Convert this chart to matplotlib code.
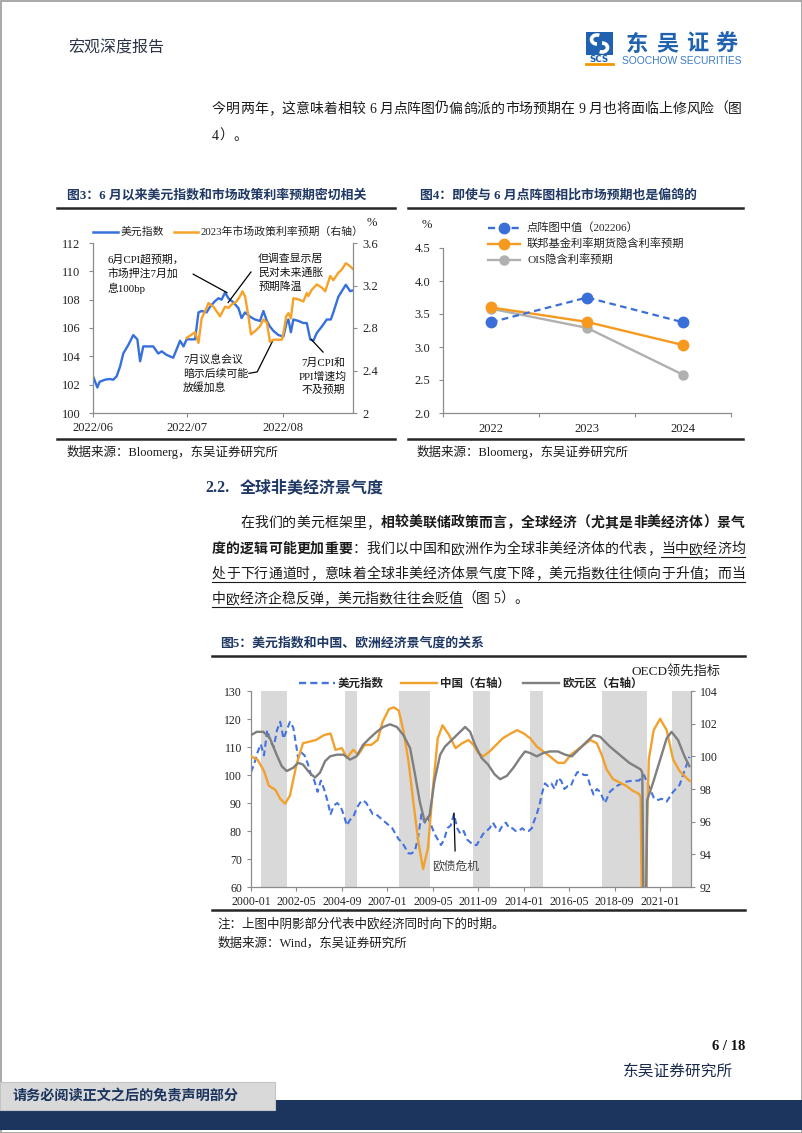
import matplotlib

matplotlib.use("Agg")
import matplotlib.pyplot as plt  # noqa: E402
import numpy as np  # noqa: E402
from matplotlib.patches import Rectangle, Arc  # noqa: E402

W, H = 802, 1133
SERIF = ["Liberation Serif", "Noto Sans CJK SC", "DejaVu Sans"]
SANS = ["Noto Sans CJK SC", "DejaVu Sans"]
NAVY = "#1F3864"
INK = "#1a1a1a"
AXIS_GRAY = "#8c8c8c"

plt.rcParams["font.family"] = SERIF
plt.rcParams["axes.unicode_minus"] = False

# ---------------- fig 3: DXY vs 2023 policy-rate expectation (days since 2022-06-01)
dxy_day = [0, 1.4, 2.1, 3.8, 5.4, 6.5, 7.6, 8.7, 9.7, 11.3, 12.9, 14.2, 15.1, 16.1, 17.2, 19.3, 20.9, 22,
           23.6, 25.7, 26.8, 27.9, 29, 30, 32.7, 33.8, 34.8, 36.4, 37.5, 39.1, 40.2, 41.2, 42.3, 43.4, 45,
           46.6, 47.6, 48.7, 50.3, 51.9, 53.5, 54.6, 55.7, 56.7, 57.8, 59.4, 61, 62, 62.6, 63.4, 64.2, 65.8,
           67.4, 68.5, 69.6, 70.6, 71.7, 73.3, 74.9, 76.2, 77, 78.6, 79.7, 81, 82.4, 83.3]
dxy_val = [102.6, 101.8, 102.2, 102.35, 102.4, 102.35, 102.6, 103.3, 104.2, 104.8, 105.5, 105.2, 103.65,
           104.7, 104.7, 104.7, 104.2, 104.35, 104.1, 103.9, 104.5, 105.1, 104.7, 105.2, 105.2, 107.1, 107.2,
           107.1, 107.5, 107.9, 108.1, 108.0, 108.5, 108.1, 107.8, 107.4, 106.7, 107.1, 106.8, 106.6, 106.5,
           107.2, 106.5, 106.1, 105.8, 105.5, 105.4, 106.35, 106.6, 105.7, 106.6, 106.5, 106.35, 106.35,
           105.2, 105.1, 105.65, 106.1, 106.6, 106.6, 107.1, 108.2, 108.6, 109.05, 108.6, 108.65]
rate_day = [30, 32.7, 33.8, 34.8, 35.9, 37, 38.6, 40.7, 42.3, 43.4, 44.4, 46, 47.1, 47.9, 48.7, 49.8, 50.6,
            51.9, 53.5, 54.6, 55.7, 56.7, 57.8, 60.5, 61, 61.9, 62.6, 63.4, 64.2, 65.8, 67.4, 68.5, 69, 70.1,
            71.7, 73.3, 74.4, 76, 77, 78.6, 79.7, 81, 82.4, 83.3]
rate_val = [2.706, 2.76, 2.66, 2.89, 2.957, 3.035, 3.0, 2.91, 3.0, 2.99, 3.02, 3.05, 3.10, 3.145, 3.10, 2.91,
            2.74, 2.77, 2.816, 2.88, 2.85, 2.67, 2.69, 2.69, 2.75, 2.91, 2.94, 2.89, 3.08, 3.07, 3.05, 3.13,
            3.10, 3.16, 3.21, 3.18, 3.145, 3.29, 3.25, 3.32, 3.35, 3.41, 3.38, 3.355]
fig3_ticks = [0, 30, 61]
fig3_labels = ["2022/06", "2022/07", "2022/08"]

# ---------------- fig 4: dot plot vs market
years = ["2022", "2023", "2024"]
dot_plot = [3.375, 3.75, 3.375]
ff_futures = [3.6, 3.38, 3.03]
ois = [3.58, 3.29, 2.58]

# ---------------- fig 5: USD index vs OECD CLI (months since 2000-01)
usd = [(0, 101), (2, 104), (4, 108), (6, 111), (8, 107), (10, 116), (12, 112), (14, 110), (16, 116),
       (18, 119), (20, 113), (22, 116), (24, 119), (26, 117), (28, 110), (29, 106), (31, 108), (33, 107),
       (35, 104), (37, 100), (39, 98), (41, 94), (43, 98), (45, 95), (47, 91), (49, 86), (51, 89), (53, 90),
       (55, 89), (57, 86), (59, 82), (61, 84), (63, 85), (65, 88), (67, 90), (69, 91), (71, 90), (73, 88),
       (75, 86), (77, 86), (79, 85), (81, 84), (83, 83), (85, 82), (87, 81), (89, 79), (91, 77), (93, 76),
       (95, 74), (97, 72), (99, 72), (101, 73), (103, 78), (105, 86), (107, 83), (109, 85), (111, 82),
       (113, 79), (115, 77), (117, 75), (119, 77), (121, 81), (123, 82), (125, 86), (127, 81), (129, 79),
       (131, 80), (133, 77), (135, 76), (137, 75), (139, 75), (141, 77), (143, 79), (145, 80), (147, 81),
       (149, 83), (151, 81), (153, 80), (155, 82), (157, 83), (159, 81), (161, 81), (163, 80), (165, 80),
       (167, 81), (169, 80), (171, 80), (173, 81), (174, 83), (176, 86), (178, 90), (179, 93), (181, 97),
       (183, 96), (185, 97), (187, 95), (189, 99), (191, 98), (193, 95), (195, 96), (197, 96), (199, 99),
       (201, 101), (203, 101), (205, 100), (207, 100), (209, 96), (211, 93), (213, 95), (215, 94), (218, 90),
       (221, 94), (225, 96), (230, 97.5), (235, 98), (239, 98), (242, 100), (245, 96), (248, 92), (250, 91),
       (253, 91.5), (256, 90.5), (260, 94), (264, 96.5), (267, 101.5), (270, 106.5)]
china = [(0, 100.0), (4, 99.8), (8, 99.1), (11, 98.2), (15, 97.95), (18, 97.4), (21, 97.1), (24, 97.6),
         (28, 99.5), (32, 100.8), (36, 100.9), (40, 101.0), (45, 101.3), (49, 101.4), (52, 100.4),
         (56, 100.5), (59, 99.9), (63, 100.4), (66, 100.1), (70, 100.7), (74, 100.7), (78, 101.0),
         (81, 102.1), (85, 102.9), (88, 103.0), (91, 102.8), (94, 101.5), (97, 99.7), (100, 97.2),
         (103, 94.8), (106, 93.1), (109, 94.4), (112, 98.0), (115, 101.1), (118, 101.9), (122, 101.3),
         (126, 100.5), (130, 100.8), (134, 101.0), (137, 100.7), (140, 100.2), (143, 100.0), (147, 100.3),
         (151, 100.7), (155, 101.1), (160, 101.4), (164, 101.6), (168, 101.4), (172, 101.1), (176, 100.6),
         (180, 100.3), (184, 100.0), (189, 99.6), (193, 99.6), (197, 100.1), (201, 100.4), (205, 100.7),
         (209, 101.0), (213, 100.8), (216, 100.1), (219, 99.2), (223, 98.6), (227, 98.4), (231, 98.2),
         (235, 97.9), (239, 97.7), (240, 97.5), (241, 88), (243, 88), (244, 96), (245, 99.8), (248, 101.6),
         (252, 102.3), (256, 101.6), (260, 99.8), (264, 99.1), (270, 98.5)]
euro = [(0, 101.3), (3.5, 101.5), (7.6, 101.5), (11.7, 101.1), (15.8, 100.1), (18.9, 99.4), (22, 99.1),
        (26, 99.3), (29, 99.6), (32, 99.5), (36, 99.0), (39.4, 98.7), (42.5, 99.0), (45.6, 99.7), (48.7, 100.0),
        (52.8, 100.1), (57, 100.1), (61, 99.8), (65, 100.0), (69, 100.7), (73, 101.1), (77.4, 101.5),
        (81.5, 101.8), (85.6, 101.96), (89.8, 101.8), (93.9, 101.3), (98, 100.5), (101, 98.9), (104, 97.2),
        (107, 96.0), (110, 96.4), (113, 98.5), (116.5, 100.1), (119.5, 100.6), (122.6, 100.9), (126.7, 101.3),
        (131.9, 101.8), (135, 101.5), (138, 100.7), (142, 99.9), (146, 99.5), (150, 98.9), (153.4, 98.6),
        (157.5, 98.8), (161.6, 99.3), (165.7, 99.9), (168.8, 100.3), (172, 100.2), (176, 100.0), (180, 100.2),
        (184, 100.3), (189, 100.3), (193.5, 100.1), (197.6, 100.0), (201.7, 100.4), (205.8, 100.8),
        (211, 101.3), (215, 101.2), (221, 100.6), (227, 100.1), (233, 99.6), (240, 99.2), (241, 99.0),
        (242, 88), (243, 88), (244, 97.3), (248, 98.5), (252, 99.8), (256, 101.1), (259, 101.5), (263, 101.0),
        (267, 100.0), (270, 99.4)]
shaded = [(6, 22), (58, 65), (91, 110), (137, 147), (172, 180), (216, 244), (259, 271)]
fig5_labels = ["2000-01", "2002-05", "2004-09", "2007-01", "2009-05", "2011-09", "2014-01", "2016-05",
               "2018-09", "2021-01"]


def box(l, t, r, b):
    return [l / W, 1 - b / H, (r - l) / W, (b - t) / H]


def style_axes(ax, color=AXIS_GRAY, size=9):
    for s in ax.spines.values():
        s.set_color(color)
        s.set_linewidth(0.9)
    ax.spines["top"].set_visible(False)
    ax.tick_params(which="both", colors=color, labelcolor="#222222", labelsize=size, length=3, width=0.8)


fig = plt.figure(figsize=(W / 100, H / 100), dpi=100)

# ---------- fig 3
ax3 = fig.add_axes(box(93, 243, 353, 413))
ax3.plot(dxy_day, dxy_val, color="#3570DC", lw=1.7)
ax3.set_xlim(0, 83.3)
ax3.set_ylim(100, 112)
ax3.set_yticks(range(100, 113, 2))
ax3.set_xticks(fig3_ticks)
ax3.set_xticklabels(fig3_labels)
style_axes(ax3)
ax3.spines["right"].set_visible(False)
ax3.tick_params(axis="y", pad=6)
ax3r = ax3.twinx()
ax3r.plot(rate_day, rate_val, color="#F7A128", lw=1.7)
ax3r.set_ylim(2, 3.6)
ax3r.set_yticks([2, 2.4, 2.8, 3.2, 3.6])
ax3r.set_yticklabels(["2", "2.4", "2.8", "3.2", "3.6"])
style_axes(ax3r)
ax3r.spines["left"].set_visible(False)
ax3r.spines["bottom"].set_visible(False)

note_kw = dict(fontsize=7.8, va="center", linespacing=1.4, color="#111111")
line_kw = dict(color="black", lw=0.9)
ax3.text(4.8, 109.8, "6月CPI超预期，\n市场押注7月加\n息100bp", ha="left", **note_kw)
ax3.plot([32.1, 42.9], [109.8, 108.5], **line_kw)
ax3.text(52.9, 109.9, "但调查显示居\n民对未来通胀\n预期降温", ha="left", **note_kw)
ax3.plot([50.6, 43.3], [109.95, 107.8], **line_kw)
ax3.text(28.8, 102.75, "7月议息会议\n暗示后续可能\n放缓加息", ha="left", **note_kw)
ax3.plot([50.0, 52.6, 57.7], [102.8, 102.9, 105.15], **line_kw)
ax3.text(73.7, 102.55, "7月CPI和\nPPI增速均\n不及预期", ha="center", **note_kw)
ax3.plot([73.7, 69.9], [104.3, 105.2], **line_kw)

# ---------- fig 4
ax4 = fig.add_axes(box(443, 248, 731, 413))
xc = np.arange(len(years)) + 0.5
ax4.plot(xc, ois, color="#B0B0B0", lw=1.7, marker="o", ms=6.5)
ax4.plot(xc, ff_futures, color="#F59A1F", lw=1.7, marker="o", ms=7.5)
ax4.plot(xc, dot_plot, color="#3A6FD9", lw=1.6, ls=(0, (3, 2)), marker="o", ms=7.5)
ax4.set_xlim(0, 3)
ax4.set_ylim(2, 4.5)
ax4.set_yticks(np.arange(2.0, 4.51, 0.5))
ax4.set_yticklabels([f"{v:.1f}" for v in np.arange(2.0, 4.51, 0.5)])
ax4.set_xticks([0, 1, 2, 3])
ax4.set_xticklabels([])
ax4.set_xticks(xc, minor=True)
ax4.set_xticklabels(years, minor=True)
style_axes(ax4)
ax4.spines["right"].set_visible(False)
ax4.tick_params(axis="x", which="minor", length=0, pad=7)
ax4.tick_params(axis="y", pad=6)

# ---------- fig 5
ax5 = fig.add_axes(box(251, 691, 691, 887))
for a, b in shaded:
    ax5.axvspan(a, b, color="#D9D9D9", lw=0, zorder=0)
um, uv = zip(*usd)
ax5.plot(um, uv, color="#4472E0", lw=1.5, ls=(0, (3, 1.8)))
ax5.set_xlim(0, 271)
ax5.set_ylim(60, 130)
ax5.set_yticks(range(60, 131, 10))
ax5.set_xticks([(int(s[:4]) - 2000) * 12 + int(s[5:]) - 1 for s in fig5_labels])
ax5.set_xticklabels(fig5_labels)
style_axes(ax5, size=8.5)
ax5.spines["right"].set_visible(False)
ax5.annotate("欧债危机", xy=(125, 86.4), xytext=(126, 67.2), ha="center", va="center", fontsize=8.5,
             color="#404040", arrowprops=dict(arrowstyle="-", color="black", lw=0.9, shrinkA=5, shrinkB=0))
ax5r = ax5.twinx()
cm, cv = zip(*china)
em_, ev = zip(*euro)
ax5r.plot(cm, cv, color="#F2A12E", lw=1.7)
ax5r.plot(em_, ev, color="#7F7F7F", lw=1.7)
ax5r.set_ylim(92, 104)
ax5r.set_yticks(range(92, 105, 2))
style_axes(ax5r, size=8.5)
ax5r.spines["left"].set_visible(False)
ax5r.spines["bottom"].set_visible(False)

# ---------- page overlay (pixel coordinates)
pg = fig.add_axes([0, 0, 1, 1])
pg.set_xlim(0, W)
pg.set_ylim(H, 0)
pg.axis("off")
renderer = fig.canvas.get_renderer()

pg.add_patch(Rectangle((0.5, 0.5), W - 1, H - 1, fill=False, ec="#9a9a9a", lw=1.2))

# header + logo
pg.text(68, 48, "宏观深度报告", fontsize=11.5, color="#2b3447", va="center")
pg.add_patch(Rectangle((586, 32), 27, 23, fc="#2162B0", ec="none"))
pg.add_patch(Arc((597, 39.5), 11, 9, theta1=90, theta2=300, color="white", lw=2.6))
pg.add_patch(Arc((602, 47.5), 11, 9, theta1=270, theta2=120, color="white", lw=2.6))
pg.text(599.5, 59, "SCS", fontsize=6.3, fontweight="bold", color="#2162B0", ha="center", va="center",
        family=["DejaVu Sans"])
pg.plot([586, 613], [63.8, 63.8], color="#F39800", lw=2)
for i, ch in enumerate("东吴证券"):
    pg.text(637 + 30 * i, 44, ch, fontsize=16, fontweight="bold", color="#2062B0", ha="center", va="center",
            family=SANS)
pg.text(622, 61, "SOOCHOW SECURITIES", fontsize=7.4, color="#3C7CC4", va="center",
        family=["Liberation Sans", "DejaVu Sans"])

_wc = {}


def adv(ch, size, weight):
    em = size * 100 / 72
    if ch == " ":
        return em * 0.25
    if ord(ch) >= 0x2E80:
        return em
    key = (ch, size, weight)
    if key not in _wc:
        t = pg.text(0, 0, ch * 8, fontsize=size, fontweight=weight)
        _wc[key] = t.get_window_extent(renderer).width / 8
        t.remove()
    return _wc[key]


def write_line(x0, y, runs, size=10, width=None, color=INK):
    chars = [(ch, st) for txt, st in runs for ch in txt]
    wts = ["bold" if "b" in st else "normal" for _, st in chars]
    ws = [adv(ch, size, wt) for (ch, _), wt in zip(chars, wts)]
    gap = 0.0
    if width is not None and len(chars) > 1:
        gap = (width - sum(ws)) / (len(chars) - 1)
    base = y + 0.36 * size * 100 / 72
    x = x0
    seg = None
    for (ch, st), wt, w in zip(chars, wts, ws):
        if ch != " ":
            if ch == "（":
                pg.text(x + w, base, ch, ha="right", va="baseline", fontsize=size, fontweight=wt, color=color)
            else:
                pg.text(x, base, ch, ha="left", va="baseline", fontsize=size, fontweight=wt, color=color)
        if "u" in st:
            seg = [x if seg is None else seg[0], x + w]
        elif seg is not None:
            pg.plot(seg, [y + 9, y + 9], color=color, lw=0.8)
            seg = None
        x += w + gap
    if seg is not None:
        pg.plot(seg, [y + 9, y + 9], color=color, lw=0.8)


write_line(212, 108, [("今明两年，这意味着相较 6 月点阵图仍偏鸽派的市场预期在 9 月也将面临上修风险（图", "n")],
           width=530)
write_line(212, 135, [("4）。", "n")])

# figure titles and rules
rule_kw = dict(color="#262626", lw=1.8)
pg.text(67, 195, "图3：6 月以来美元指数和市场政策利率预期密切相关", fontsize=9.3, fontweight="bold", color=NAVY,
        va="center")
pg.text(420, 195, "图4：即使与 6 月点阵图相比市场预期也是偏鸽的", fontsize=9.3, fontweight="bold", color=NAVY,
        va="center")
pg.plot([57, 395], [208, 208], **rule_kw)
pg.plot([408, 743], [208, 208], **rule_kw)
pg.plot([57, 395], [439, 439], **rule_kw)
pg.plot([408, 743], [439, 439], **rule_kw)
pg.text(67, 452, "数据来源：Bloomerg，东吴证券研究所", fontsize=9, color=INK, va="center")
pg.text(417, 452, "数据来源：Bloomerg，东吴证券研究所", fontsize=9, color=INK, va="center")

# fig 3 legend + unit
pg.plot([93, 118], [232, 232], color="#3570DC", lw=1.8)
pg.text(121, 232, "美元指数", fontsize=7.8, va="center", color="#222222")
pg.plot([174, 198], [232, 232], color="#F7A128", lw=1.8)
pg.text(201, 232, "2023年市场政策利率预期（右轴）", fontsize=7.8, va="center", color="#222222")
pg.text(372, 223, "%", fontsize=9, va="center", ha="center", color="#222222")

# fig 4 legend + unit
pg.text(427, 225, "%", fontsize=9, va="center", ha="center", color="#222222")
leg4 = [("点阵图中值（202206）", "#3A6FD9", (0, (3, 2)), 7.5, 228),
        ("联邦基金利率期货隐含利率预期", "#F59A1F", "-", 7.5, 244),
        ("OIS隐含利率预期", "#B0B0B0", "-", 6.5, 260)]
for lab, col, ls, ms, yy in leg4:
    pg.plot([488, 520], [yy, yy], color=col, ls=ls, lw=1.7)
    pg.plot([504], [yy], color=col, marker="o", ms=ms)
    pg.text(527, yy, lab, fontsize=8.1, va="center", color="#222222")

# section heading + paragraph
pg.text(205, 488, "2.2.", fontsize=11.5, fontweight="bold", color=NAVY, va="center")
pg.text(240, 488, "全球非美经济景气度", fontsize=11.5, fontweight="bold", color=NAVY, va="center")
write_line(240, 522, [("在我们的美元框架里，", "n"), ("相较美联储政策而言，全球经济（尤其是非美经济体）景气", "b")],
           width=505)
write_line(212, 548, [("度的逻辑可能更加重要", "b"), ("：我们以中国和欧洲作为全球非美经济体的代表，", "n"),
                      ("当中欧经济均", "u")], width=533)
write_line(212, 573, [("处于下行通道时，意味着全球非美经济体景气度下降，美元指数往往倾向于升值；而当", "u")], width=533)
write_line(212, 598, [("中欧经济企稳反弹，美元指数往往会贬值", "u"), ("（图 5）。", "n")])

# fig 5 title, legend, notes
pg.text(220, 643, "图5：美元指数和中国、欧洲经济景气度的关系", fontsize=9.3, fontweight="bold", color=NAVY,
        va="center")
pg.plot([212, 745], [656, 656], **rule_kw)
pg.plot([212, 745], [910, 910], **rule_kw)
pg.text(720, 672, "OECD领先指标", fontsize=9.5, ha="right", va="center", color="#222222")
leg5 = [("美元指数", "#4472E0", (0, (3, 1.8)), 299), ("中国（右轴）", "#F2A12E", "-", 401),
        ("欧元区（右轴）", "#7F7F7F", "-", 523)]
for lab, col, ls, x0 in leg5:
    pg.plot([x0, x0 + 36], [683, 683], color=col, ls=ls, lw=1.7)
    pg.text(x0 + 39, 683, lab, fontsize=8.3, fontweight="bold", va="center", color="#222222", family=SANS)
pg.text(218, 924, "注：上图中阴影部分代表中欧经济同时向下的时期。", fontsize=9, va="center", color=INK)
pg.text(218, 943, "数据来源：Wind，东吴证券研究所", fontsize=9, va="center", color=INK)

# footer
pg.text(745, 1046, "6 / 18", fontsize=10.5, fontweight="bold", ha="right", va="center", color="#111111")
pg.text(733, 1072, "东吴证券研究所", fontsize=11.3, ha="right", va="center", color="#1a2a4a")
pg.add_patch(Rectangle((0, 1100), W, 30, fc="#1B355E", ec="none"))
pg.add_patch(Rectangle((0, 1082), 275, 28, fc="#D9D9D9", ec="#c4c4c4", lw=0.8))
pg.text(12, 1096, "请务必阅读正文之后的免责声明部分", fontsize=10.2, fontweight="bold", va="center", color="#1B355E")

fig.savefig("out.png", dpi=100)
plt.close(fig)
